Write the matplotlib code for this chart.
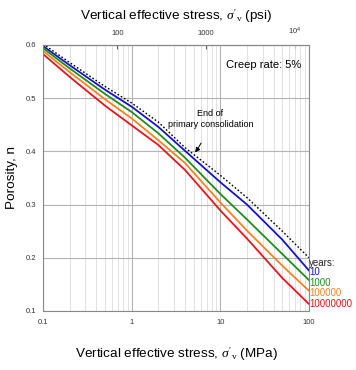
import numpy as np
import matplotlib
matplotlib.use('Agg')
import matplotlib.pyplot as plt
from matplotlib.ticker import FixedLocator, NullFormatter, LogLocator

plt.rcParams['font.family'] = ['Liberation Sans', 'DejaVu Sans']
plt.rcParams['mathtext.fontset'] = 'custom'
plt.rcParams['mathtext.rm'] = 'Liberation Serif'
plt.rcParams['mathtext.it'] = 'Liberation Serif:italic'

stress = [0.1, 0.2, 0.5, 1, 2, 4, 10, 20, 50, 100]

# end of primary consolidation (dotted) and creep curves per age
n_eop = [0.602, 0.567, 0.522, 0.491, 0.455, 0.407, 0.355, 0.313, 0.250, 0.200]
n_10 = [0.598, 0.562, 0.516, 0.484, 0.446, 0.401, 0.342, 0.300, 0.234, 0.176]
n_1000 = [0.594, 0.556, 0.508, 0.474, 0.434, 0.388, 0.320, 0.272, 0.207, 0.158]
n_1e5 = [0.589, 0.549, 0.498, 0.462, 0.421, 0.378, 0.304, 0.251, 0.185, 0.138]
n_1e7 = [0.583, 0.540, 0.486, 0.449, 0.412, 0.365, 0.289, 0.236, 0.162, 0.113]

years = ['10', '1000', '100000', '10000000']
colors = ['#1414c8', '#1e8c1e', '#f5821e', '#e6141e']
label_y = [0.174, 0.153, 0.133, 0.113]

psi_ticks = [100, 1000, 10000]
psi_labels = ['100', '1000', r'$\mathregular{10^4}$']

fig = plt.figure(figsize=(3.56, 3.70), dpi=100)
ax = fig.add_axes([0.1208, 0.1595, 0.7472, 0.7189])

ax.plot(stress, n_eop, color='black', lw=1.0, ls=(0, (1.2, 1.5)))
for vals, c in zip([n_10, n_1000, n_1e5, n_1e7], colors):
    ax.plot(stress, vals, color=c, lw=1.3)

ax.set_xscale('log')
ax.set_xlim(0.1, 100)
ax.set_ylim(0.1, 0.6)
ax.set_yticks([0.1, 0.2, 0.3, 0.4, 0.5, 0.6])
ax.set_xticks([0.1, 1, 10, 100])
ax.set_xticklabels(['0.1', '1', '10', '100'])
ax.xaxis.set_minor_locator(LogLocator(subs=np.arange(2, 10)))
ax.xaxis.set_minor_formatter(NullFormatter())
ax.grid(True, which='major', color='#b4b4b4', lw=0.8)
ax.grid(True, which='minor', axis='x', color='#dcdcdc', lw=0.6)
ax.tick_params(which='both', length=0, labelsize=5.5, labelcolor='#333333')
ax.tick_params(axis='x', pad=5.5)
ax.tick_params(axis='y', pad=5)
for s in ax.spines.values():
    s.set_color('#888888')
    s.set_linewidth(0.8)

sec = ax.secondary_xaxis('top', functions=(lambda x: x * 145.038, lambda x: x / 145.038))
sec.set_xticks(psi_ticks)
sec.set_xticklabels(psi_labels)
sec.xaxis.set_minor_locator(FixedLocator([]))
sec.tick_params(direction='in', length=3, color='#666666', labelsize=5.5, labelcolor='#333333', pad=6)
sec.spines['top'].set_color('#888888')
sec.set_xlabel("Vertical effective stress, $\\sigma'_{\\mathrm{v}}$ (psi)", fontsize=9.7)
sec.xaxis.set_label_coords(0.5, 1.095, transform=ax.transAxes)

ax.set_xlabel("Vertical effective stress, $\\sigma'_{\\mathrm{v}}$ (MPa)", fontsize=9.7)
ax.xaxis.set_label_coords(0.5, -0.128)
ax.set_ylabel('Porosity, n', fontsize=9.7)
ax.yaxis.set_label_coords(-0.095, 0.5)

ax.text(0.97, 0.925, 'Creep rate: 5%', transform=ax.transAxes, ha='right', va='center', fontsize=8)
ax.annotate('End of\nprimary consolidation', xy=(5.2, 0.398), xytext=(7.7, 0.461),
            ha='center', va='center', fontsize=6.5, linespacing=1.25,
            arrowprops=dict(arrowstyle='-|>', color='black', lw=0.7, mutation_scale=7,
                            shrinkA=9, shrinkB=0, connectionstyle='arc3,rad=-0.1'))

ax.text(101, 0.191, 'years:', fontsize=7, ha='left', va='center', color='#222222')
for lab, c, yv in zip(years, colors, label_y):
    ax.text(101, yv, lab, fontsize=7, ha='left', va='center', color=c)

fig.savefig('out.png', dpi=100)
